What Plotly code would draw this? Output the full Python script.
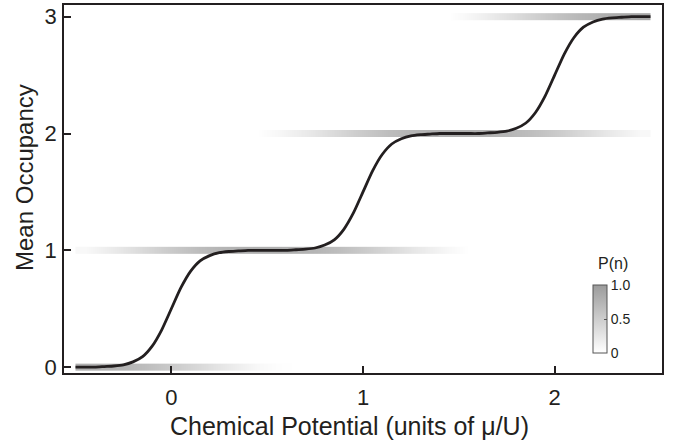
import plotly.graph_objects as go

# Mean occupancy curve
MU = [-0.50, -0.45, -0.40, -0.35, -0.30, -0.25, -0.20, -0.15, -0.10, -0.05,
      0.00, 0.05, 0.10, 0.15, 0.20, 0.25, 0.30, 0.35, 0.40, 0.45,
      0.50, 0.55, 0.60, 0.65, 0.70, 0.75, 0.80, 0.85, 0.90, 0.95,
      1.00, 1.05, 1.10, 1.15, 1.20, 1.25, 1.30, 1.35, 1.40, 1.45,
      1.50, 1.55, 1.60, 1.65, 1.70, 1.75, 1.80, 1.85, 1.90, 1.95,
      2.00, 2.05, 2.10, 2.15, 2.20, 2.25, 2.30, 2.35, 2.40, 2.45, 2.50]
N_MEAN = [0.0, 0.0, 0.0, 0.005, 0.01, 0.02, 0.045, 0.09, 0.18, 0.32,
          0.50, 0.68, 0.82, 0.91, 0.955, 0.98, 0.99, 0.995, 1.0, 1.0,
          1.0, 1.0, 1.0, 1.005, 1.01, 1.02, 1.045, 1.09, 1.18, 1.32,
          1.50, 1.68, 1.82, 1.91, 1.955, 1.98, 1.99, 1.995, 2.0, 2.0,
          2.0, 2.0, 2.0, 2.005, 2.01, 2.02, 2.045, 2.09, 2.18, 2.32,
          2.50, 2.68, 2.82, 2.91, 2.955, 2.98, 2.99, 2.995, 3.0, 3.0, 3.0]

# Probability bars P(n) along chemical potential
MU_BAR = [-0.45, -0.35, -0.25, -0.15, -0.05, 0.05, 0.15, 0.25, 0.35, 0.45,
          0.55, 0.65, 0.75, 0.85, 0.95, 1.05, 1.15, 1.25, 1.35, 1.45,
          1.55, 1.65, 1.75, 1.85, 1.95, 2.05, 2.15, 2.25, 2.35, 2.45]
P0 = [0.80, 0.78, 0.74, 0.67, 0.58, 0.48, 0.37, 0.26, 0.16, 0.07,
      0.02, 0, 0, 0, 0, 0, 0, 0, 0, 0,
      0, 0, 0, 0, 0, 0, 0, 0, 0, 0]
P1 = [0.07, 0.16, 0.26, 0.37, 0.48, 0.58, 0.67, 0.74, 0.78, 0.80,
      0.80, 0.78, 0.74, 0.67, 0.58, 0.48, 0.37, 0.26, 0.16, 0.07,
      0, 0, 0, 0, 0, 0, 0, 0, 0, 0]
P2 = [0, 0, 0, 0, 0, 0, 0, 0, 0, 0,
      0.07, 0.16, 0.26, 0.37, 0.48, 0.58, 0.67, 0.74, 0.78, 0.80,
      0.80, 0.78, 0.74, 0.67, 0.58, 0.48, 0.37, 0.26, 0.16, 0.07]
P3 = [0, 0, 0, 0, 0, 0, 0, 0, 0, 0,
      0, 0, 0, 0, 0, 0, 0, 0, 0, 0,
      0.08, 0.18, 0.29, 0.41, 0.53, 0.64, 0.73, 0.80, 0.85, 0.88]
LEVELS = [0, 1, 2, 3]
P_ROWS = [P0, P1, P2, P3]

X_TICKS = [0, 1, 2]
Y_TICKS = [0, 1, 2, 3]
CB_TICKS = [0, 0.5, 1.0]
CB_TEXT = ["0", "0.5", "1.0"]
X_TITLE = "Chemical Potential (units of μ/U)"
Y_TITLE = "Mean Occupancy"
CB_TITLE = "P(n)"

INK = "#231f20"
FONT = "Liberation Sans, Arial, Helvetica, sans-serif"

fig = go.Figure()

for n, p in zip(LEVELS, P_ROWS):
    fig.add_trace(go.Heatmap(
        x=MU_BAR, y=[n - 0.015, n + 0.015], z=[p, p],
        coloraxis="coloraxis", zsmooth="best", hoverinfo="skip",
    ))

fig.add_trace(go.Scatter(
    x=MU, y=N_MEAN, mode="lines",
    line=dict(color=INK, width=2.8, shape="spline", smoothing=0.6),
    showlegend=False, hoverinfo="skip",
))

fig.update_layout(
    width=678, height=442,
    margin=dict(l=64, r=16, t=3, b=69),
    paper_bgcolor="white", plot_bgcolor="white",
    font=dict(family=FONT, color=INK, size=22),
    showlegend=False,
    coloraxis=dict(
        cmin=0, cmax=1,
        colorscale=[[0, "#ffffff"], [1, "#9b9b9b"]],
        colorbar=dict(
            x=0.885, xanchor="left",
            y=0.054, yanchor="bottom",
            len=68, lenmode="pixels",
            thickness=14, thicknessmode="pixels",
            xpad=0, ypad=0,
            outlinewidth=1, outlinecolor="#555555",
            tickvals=CB_TICKS, ticktext=CB_TEXT,
            ticks="inside", ticklen=3, tickcolor="#555555",
            tickfont=dict(size=14, color=INK),
        ),
    ),
    xaxis=dict(
        range=[-0.56, 2.56], tickvals=X_TICKS,
        ticks="inside", ticklen=7, tickwidth=1.5, tickcolor=INK,
        showline=True, mirror=True, linewidth=1.5, linecolor=INK,
        showgrid=False, zeroline=False,
        tickfont=dict(size=22), ticklabelstandoff=4,
    ),
    yaxis=dict(
        range=[-0.05, 3.1], tickvals=Y_TICKS,
        ticks="inside", ticklen=7, tickwidth=1.5, tickcolor=INK,
        showline=True, mirror=True, linewidth=1.5, linecolor=INK,
        showgrid=False, zeroline=False,
        tickfont=dict(size=22), ticklabelstandoff=1,
    ),
    annotations=[
        dict(text=X_TITLE, xref="paper", yref="paper", x=0.4766, y=-0.143,
             xanchor="center", yanchor="middle", showarrow=False,
             font=dict(size=25, color=INK)),
        dict(text=Y_TITLE, xref="paper", yref="paper", x=-0.0652, y=0.53,
             xanchor="center", yanchor="middle", showarrow=False, textangle=-90,
             font=dict(size=24, color=INK)),
        dict(text=CB_TITLE, xref="paper", yref="paper", x=0.918, y=0.297,
             xanchor="center", yanchor="middle", showarrow=False,
             font=dict(size=16, color=INK)),
    ],
)

fig.write_html("out.html", config={"displayModeBar": False},
               post_script="document.body.style.margin='0';")
